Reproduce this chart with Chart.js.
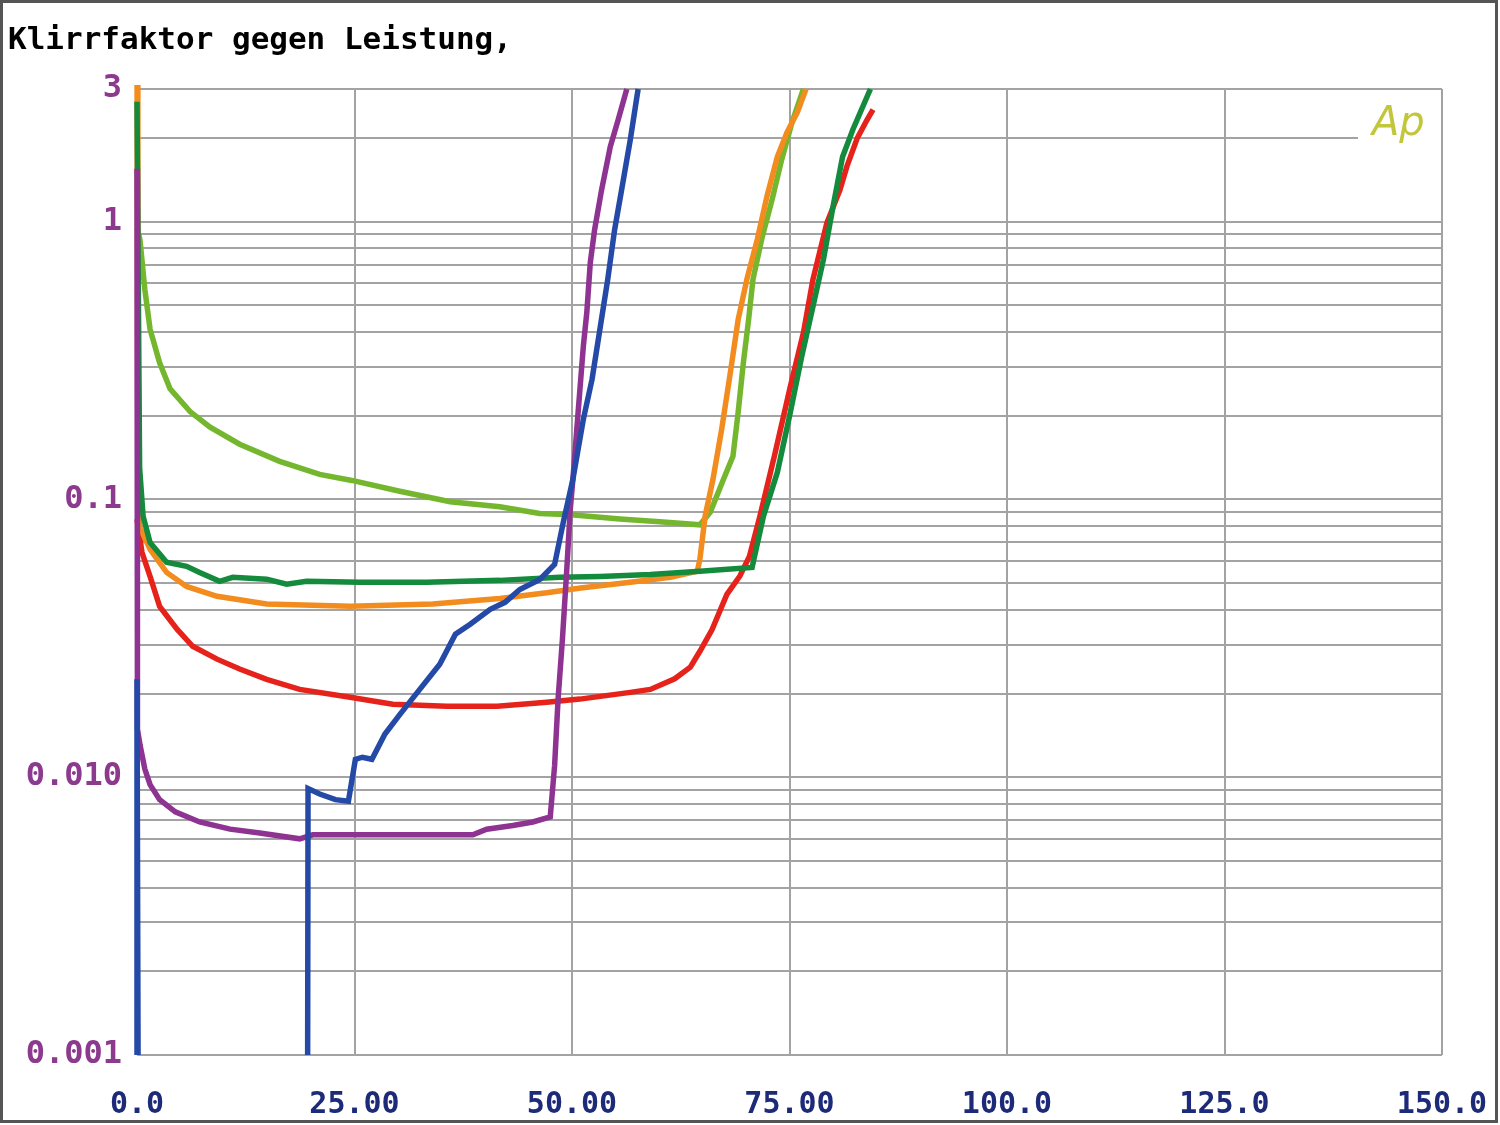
<!DOCTYPE html>
<html>
<head>
<meta charset="utf-8">
<title>Klirrfaktor gegen Leistung</title>
<script src="https://cdn.jsdelivr.net/npm/chart.js@4/dist/chart.umd.min.js"></script>
<style>
  html, body { margin: 0; padding: 0; background: #ffffff; }
  #wrap { width: 1500px; height: 1125px; }
</style>
</head>
<body>
<div id="wrap"><canvas id="klirr" width="1500" height="1125"></canvas></div>
<script>
// Titel und Achsenbeschriftungen
const chartTitle = 'Klirrfaktor gegen Leistung,';
const xTickLabels = ['0.0', '25.00', '50.00', '75.00', '100.0', '125.0', '150.0'];
const yLabelValues = [0.001, 0.01, 0.1, 1, 3];
const yLabelTexts = ['0.001', '0.010', '0.1', '1', '3'];
// Gitterlinien der log. Achse
const yGridValues = [
    0.001, 0.002, 0.003, 0.004, 0.005, 0.006, 0.007, 0.008, 0.009,
    0.01, 0.02, 0.03, 0.04, 0.05, 0.06, 0.07, 0.08, 0.09,
    0.1, 0.2, 0.3, 0.4, 0.5, 0.6, 0.7, 0.8, 0.9,
    1, 2, 3
];

// Messkurven (Leistung in W, Klirrfaktor in %)
const lightGreenX = [0, 0.34, 0.9, 1.5, 2.6, 3.8, 6.1, 8.4, 11.8, 16.4, 21.0, 24.7, 30.2, 36.0, 41.7, 46.3, 49.9, 55.5, 60.1, 64.7, 65.9, 67.4, 68.5, 69.1, 69.7, 70.3, 70.8, 71.8, 73.0, 74.1, 75.3, 76.6];
const lightGreenY = [0.95, 0.86, 0.57, 0.41, 0.31, 0.25, 0.207, 0.182, 0.158, 0.137, 0.123, 0.117, 0.107, 0.098, 0.094, 0.089, 0.088, 0.085, 0.083, 0.081, 0.090, 0.118, 0.143, 0.206, 0.311, 0.444, 0.619, 0.863, 1.2, 1.67, 2.28, 3.0];

const darkGreenX = [0, 0.3, 0.7, 1.5, 3.4, 5.7, 7.2, 9.5, 11.0, 14.9, 17.2, 19.5, 25.6, 33.3, 41.7, 48.6, 53.2, 59.0, 64.7, 70.7, 72.0, 73.6, 75.1, 76.4, 77.7, 78.9, 80.0, 81.1, 82.3, 84.3];
const darkGreenY = [2.7, 0.13, 0.087, 0.070, 0.0594, 0.0574, 0.0546, 0.0507, 0.0524, 0.0516, 0.0495, 0.0507, 0.0503, 0.0503, 0.0511, 0.0524, 0.0528, 0.0537, 0.0551, 0.0569, 0.0869, 0.125, 0.206, 0.326, 0.495, 0.73, 1.13, 1.71, 2.15, 3.0];

const orangeX = [0, 0.1, 0.34, 1.5, 3.4, 5.7, 9.2, 14.9, 24.5, 34.0, 41.7, 47.1, 51.0, 56.7, 61.3, 64.4, 64.7, 65.3, 66.2, 67.2, 68.2, 69.1, 70.1, 71.3, 72.4, 73.6, 74.7, 75.9, 76.9];
const orangeY = [4, 0.095, 0.0793, 0.0661, 0.0546, 0.0486, 0.0448, 0.042, 0.0412, 0.042, 0.044, 0.0461, 0.048, 0.0503, 0.0524, 0.0551, 0.0608, 0.0869, 0.118, 0.1785, 0.286, 0.444, 0.619, 0.863, 1.23, 1.71, 2.09, 2.47, 3.0];

const redX = [0, 0.57, 1.5, 2.6, 4.6, 6.4, 9.2, 11.8, 14.9, 18.7, 24.5, 29.4, 35.6, 41.4, 47.1, 50.9, 56.7, 59.0, 61.8, 63.6, 64.7, 66.1, 67.8, 69.3, 70.4, 71.6, 73.3, 75.1, 76.6, 77.7, 79.3, 80.8, 81.6, 82.8, 83.9, 84.6];
const redY = [0.085, 0.0645, 0.0528, 0.0412, 0.0341, 0.0296, 0.0266, 0.0245, 0.0225, 0.0207, 0.0194, 0.0183, 0.018, 0.018, 0.0186, 0.0191, 0.0202, 0.0207, 0.0226, 0.0249, 0.0284, 0.034, 0.0455, 0.053, 0.0624, 0.0869, 0.145, 0.255, 0.398, 0.619, 0.99, 1.30, 1.58, 2.0, 2.32, 2.53];

const blueX = [0, 0, 0.15, 19.6, 19.66, 21.0, 22.8, 24.3, 25.1, 25.9, 27.0, 28.5, 30.2, 32.5, 34.8, 36.6, 38.3, 40.6, 42.3, 44.0, 46.3, 48.0, 49.0, 50.1, 51.3, 52.3, 53.2, 54.1, 54.9, 55.9, 56.7, 57.6];
const blueY = [0.0005, 0.0225, 0.0005, 0.0005, 0.0091, 0.0087, 0.0083, 0.0082, 0.0116, 0.0118, 0.0116, 0.0143, 0.0168, 0.0207, 0.0255, 0.0327, 0.0355, 0.0402, 0.0426, 0.0474, 0.0515, 0.0583, 0.0827, 0.118, 0.194, 0.27, 0.408, 0.617, 0.935, 1.41, 1.97, 3.0];

const purpleX = [0, 0.05, 0.34, 0.9, 1.5, 2.6, 4.4, 7.2, 10.7, 14.1, 18.7, 20.2, 26.8, 33.7, 38.6, 40.2, 43.2, 45.5, 47.5, 48.0, 48.4, 48.9, 49.4, 49.8, 50.1, 50.7, 51.3, 51.7, 52.1, 52.6, 53.4, 54.4, 55.3, 56.3];
const purpleY = [1.55, 0.0149, 0.0131, 0.0107, 0.0094, 0.0083, 0.0075, 0.0069, 0.0065, 0.0063, 0.006, 0.0062, 0.0062, 0.0062, 0.0062, 0.0065, 0.0067, 0.0069, 0.0072, 0.011, 0.0191, 0.0314, 0.056, 0.092, 0.118, 0.205, 0.355, 0.47, 0.71, 0.935, 1.30, 1.86, 2.32, 3.0];

function toPoints(xs, ys) {
    return xs.map((x, i) => ({ x: x, y: ys[i] }));
}

function makeSet(xs, ys, color) {
    return {
        data: toPoints(xs, ys),
        borderColor: color,
        borderWidth: 5.5,
        pointRadius: 0,
        tension: 0,
        fill: false,
        clip: { left: 6, top: 4, right: 0, bottom: 0 }
    };
}

// Titel, Rahmen und "Ap"-Logo
const decorPlugin = {
    id: 'decor',
    beforeDatasetsDraw(chart) {
        const ctx = chart.ctx;
        const area = chart.chartArea;
        ctx.save();
        // Logo ueberdeckt die Gitterlinie
        ctx.fillStyle = '#ffffff';
        ctx.fillRect(area.right - 84, area.top + 6, 83, 70);
        ctx.fillStyle = '#c2c63a';
        ctx.font = 'italic 40px "DejaVu Sans"';
        ctx.textAlign = 'left';
        ctx.textBaseline = 'alphabetic';
        ctx.fillText('Ap', area.right - 70, area.top + 46);
        ctx.restore();
    },
    afterDraw(chart) {
        const ctx = chart.ctx;
        ctx.save();
        ctx.fillStyle = '#000000';
        ctx.font = 'bold 31px "DejaVu Sans Mono"';
        ctx.textAlign = 'left';
        ctx.textBaseline = 'alphabetic';
        ctx.fillText(chartTitle, 8, 49);
        ctx.strokeStyle = '#555555';
        ctx.lineWidth = 3;
        ctx.strokeRect(1.5, 1.5, 1495, 1120);
        ctx.restore();
    }
};

const ctx = document.getElementById('klirr').getContext('2d');
new Chart(ctx, {
    type: 'line',
    data: {
        datasets: [
            makeSet(blueX, blueY, '#2449a6'),
            makeSet(purpleX, purpleY, '#8e3391'),
            makeSet(darkGreenX, darkGreenY, '#138a3c'),
            makeSet(orangeX, orangeY, '#f28c1e'),
            makeSet(lightGreenX, lightGreenY, '#74b72e'),
            makeSet(redX, redY, '#e5231b')
        ]
    },
    options: {
        responsive: false,
        animation: false,
        devicePixelRatio: 1,
        layout: { padding: { top: 89, left: 0, right: 58, bottom: 0 } },
        plugins: {
            legend: { display: false },
            tooltip: { enabled: false },
            title: { display: false }
        },
        scales: {
            x: {
                type: 'linear',
                min: 0,
                max: 150,
                border: { display: false },
                grid: { color: '#a3a3a3', lineWidth: 2, drawTicks: false },
                ticks: {
                    stepSize: 25,
                    maxRotation: 0,
                    autoSkip: false,
                    padding: 32,
                    color: '#1c2a78',
                    font: { family: '"DejaVu Sans Mono"', size: 30, weight: 'bold' },
                    callback: (value, index) => xTickLabels[index]
                },
                afterFit(scale) {
                    scale.height = 70;
                    scale.paddingLeft = 0;
                    scale.paddingRight = 0;
                }
            },
            y: {
                type: 'logarithmic',
                min: 0.001,
                max: 3,
                border: { display: false },
                grid: { color: '#a3a3a3', lineWidth: 2, drawTicks: false },
                ticks: {
                    autoSkip: false,
                    padding: 15,
                    color: '#8b3a8d',
                    font: { family: '"DejaVu Sans Mono"', size: 32, weight: 'bold' },
                    callback: function (value) {
                        for (let i = 0; i < yLabelValues.length; i++) {
                            if (Math.abs(value - yLabelValues[i]) < yLabelValues[i] * 1e-6) {
                                return yLabelTexts[i];
                            }
                        }
                        return '';
                    }
                },
                afterBuildTicks(scale) {
                    scale.ticks = yGridValues.map(v => ({ value: v }));
                },
                afterFit(scale) {
                    scale.width = 137;
                    scale.paddingTop = 0;
                    scale.paddingBottom = 0;
                }
            }
        }
    },
    plugins: [decorPlugin]
});
</script>
</body>
</html>
